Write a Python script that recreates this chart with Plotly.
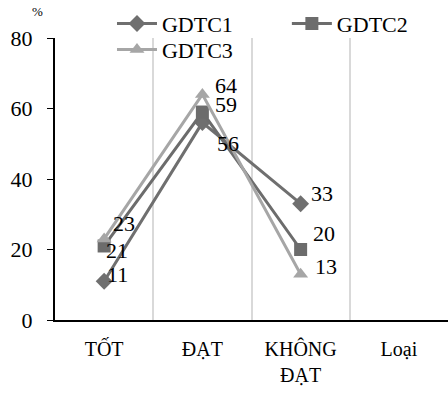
import plotly.graph_objects as go

categories = ["TỐT", "ĐẠT", "KHÔNG<br>ĐẠT", "Loại"]
series_names = ["GDTC1", "GDTC2", "GDTC3"]
gdtc1 = [11, 56, 33, None]
gdtc2 = [21, 59, 20, None]
gdtc3 = [23, 64, 13, None]

colors = ["#6f6f6f", "#6c6c6c", "#a6a6a6"]
symbols = ["diamond", "square", "triangle-up"]
legend_ids = ["legend", "legend2", "legend3"]
# label offsets (pixels) per series / point
shifts = [
    [(1, 7), (13, -21), (8, 10), (0, 0)],
    [(0, -5), (11, 8), (10, 16), (0, 0)],
    [(7, 15), (11, 9), (12, 8), (0, 0)],
]

serif = "Liberation Serif"
fig = go.Figure()
annotations = []
for name, vals, c, s, sh, lg in zip(series_names, [gdtc1, gdtc2, gdtc3], colors, symbols,
                                    shifts, legend_ids):
    fig.add_trace(go.Scatter(
        x=categories, y=vals, name=name, mode="lines+markers", legend=lg,
        line=dict(color=c, width=3), marker=dict(symbol=s, size=13, color=c),
        cliponaxis=False,
    ))
    for cat, v, (dx, dy) in zip(categories, vals, sh):
        if v is None:
            continue
        annotations.append(dict(x=cat, y=v, xref="x", yref="y", text=str(v),
                                showarrow=False, xanchor="left", yanchor="middle",
                                xshift=dx, yshift=dy,
                                font=dict(family=serif, size=22, color="black")))

annotations.append(dict(text="%", x=-0.045, y=1.0, xref="paper", yref="paper",
                        xanchor="center", yanchor="bottom", showarrow=False,
                        yshift=17, font=dict(family=serif, size=13)))

def leg(x, y):
    return dict(orientation="h", x=x, y=y, xanchor="left", yanchor="top",
                bgcolor="rgba(0,0,0,0)", font=dict(family=serif, size=22),
                itemwidth=40)

fig.update_layout(
    width=448, height=393,
    margin=dict(l=55, r=0, t=38, b=73),
    paper_bgcolor="white", plot_bgcolor="white",
    font=dict(family=serif, size=20, color="black"),
    showlegend=True,
    legend=leg(0.145, 1.125),
    legend2=leg(0.59, 1.125),
    legend3=leg(0.145, 1.033),
    xaxis=dict(type="category", categoryorder="array", categoryarray=categories,
               range=[-0.5, 3.5], tickson="boundaries", showgrid=True,
               gridcolor="#d9d9d9", gridwidth=2, showline=True, linecolor="black",
               linewidth=2, ticks="", ticklabelstandoff=10,
               tickfont=dict(family=serif, size=20), zeroline=False),
    yaxis=dict(range=[0, 80], dtick=20, showgrid=False, showline=True, linecolor="black",
               linewidth=2, ticks="outside", ticklen=6, tickcolor="black",
               ticklabelstandoff=10,
               tickfont=dict(family=serif, size=22), zeroline=False),
    annotations=annotations,
)
fig.write_html("out.html")
